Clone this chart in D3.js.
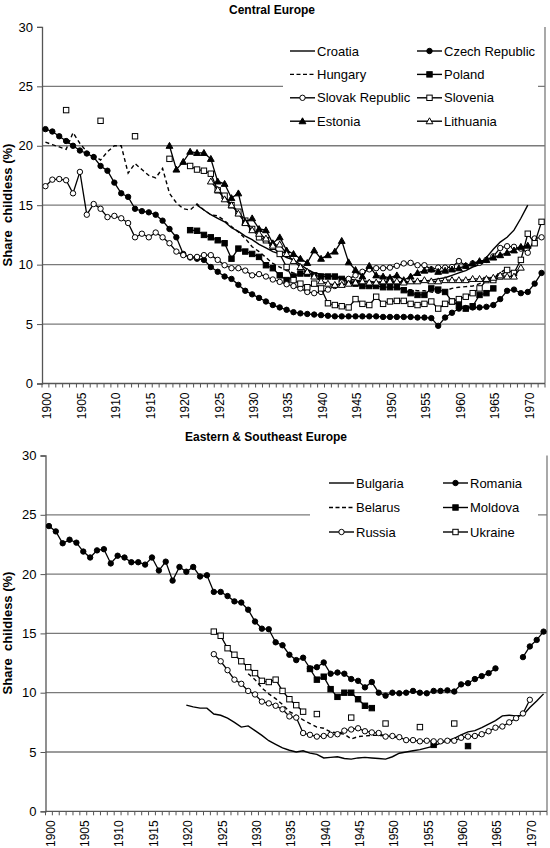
<!DOCTYPE html>
<html><head><meta charset="utf-8">
<script src="https://cdn.jsdelivr.net/npm/d3@7"></script>
<style>body{margin:0;background:#fff}svg{display:block}text{font-family:"Liberation Sans",Arial,sans-serif;fill:#000}</style>
</head><body><svg id="c" width="550" height="848"></svg>
<script>
// ---------- data ----------
const years = d3.range(1900, 1973);
const tickYears = [1900,1905,1910,1915,1920,1925,1930,1935,1940,1945,1950,1955,1960,1965,1970];
const yTicks = [0,5,10,15,20,25,30];
const gridValues = [5,10,15,20,25];

// Central Europe
const croatiaStart = 1922;
const croatia = [15.0,14.6,14.2,13.9,13.6,13.1,12.8,12.4,12.1,11.7,11.4,11.1,10.9,10.6,10.4,10.0,9.6,9.3,9.2,9.1,9.0,8.9,8.8,8.7,8.6,8.6,8.5,8.5,8.5,8.5,8.5,8.5,8.6,8.6,8.7,8.8,8.9,9.1,9.3,9.5,9.8,10.0,10.6,11.3,11.9,12.3,12.9,13.9,15.0];
const czechStart = 1900;
const czech = [21.4,21.2,20.8,20.4,20.0,19.6,19.35,19.05,18.3,17.9,16.9,16.0,15.7,14.7,14.5,14.4,14.2,13.7,13.0,12.3,10.9,10.6,10.5,10.4,9.8,9.4,9.0,8.8,8.3,7.8,7.5,7.2,6.9,6.6,6.4,6.2,6.0,5.9,5.85,5.8,5.75,5.7,5.65,5.65,5.65,5.65,5.65,5.65,5.65,5.6,5.6,5.6,5.6,5.6,5.55,5.55,5.5,4.85,5.55,5.95,6.3,6.35,6.4,6.4,6.45,6.6,7.1,7.8,7.9,7.6,7.7,8.4,9.3];
const hungaryStart = 1900;
const hungary = [20.3,20.1,19.9,19.7,21.1,20.2,19.5,19.2,18.8,19.5,20.0,20.0,17.7,18.5,18.0,17.5,17.3,18.1,16.0,15.2,14.7,14.6,15.1,14.6,14.2,14.1,13.7,13.2,12.75,12.2,11.5,11.1,10.6,10.1,9.8,9.5,9.3,9.2,9.1,9.0,9.0,8.9,8.8,8.7,8.6,8.5,8.4,8.3,8.2,8.1,8.0,8.0,7.9,7.9,7.8,7.8,7.7,7.6,7.8,8.0,8.1,8.15,8.2,8.4,8.6,8.9,9.3,9.7];
const polandStart = 1921;
const poland = [12.9,12.85,12.5,12.3,12.05,11.8,10.5,11.35,11.1,10.9,10.65,9.95,9.7,9.1,8.7,9.0,9.25,9.25,9.1,9.0,9.0,9.0,8.8,8.6,8.4,8.2,8.2,8.2,8.1,8.1,8.1,7.85,7.6,7.45,7.45,8.0,7.9,7.7,6.9,6.6,6.3,6.5,7.45,7.6,8.0];
const slovakStart = 1900;
const slovak = [16.6,17.15,17.2,17.1,16.0,17.8,14.2,15.1,14.7,14.0,14.1,13.9,13.5,12.3,12.6,12.3,12.7,12.3,11.8,11.1,10.8,10.65,10.65,10.8,10.8,10.4,9.95,9.7,9.7,9.5,9.1,9.2,9.0,8.75,8.55,8.35,8.2,8.0,7.7,7.6,7.7,7.9,8.2,8.5,8.8,9.1,9.4,9.6,9.7,9.7,9.75,9.9,10.1,10.15,9.95,9.95,9.6,9.75,9.75,9.8,10.3,9.9,10.1,10.15,10.4,10.7,11.4,11.55,11.5,11.35,11.0,12.2,12.3];
const sloveniaStart = 1903;
const slovenia = [23.0,null,null,null,null,22.1,null,null,null,null,20.8,null,null,null,null,18.9,null,null,18.3,18.0,17.9,17.65,16.25,15.8,15.0,14.45,13.7,13.0,12.3,12.05,11.5,10.9,9.8,8.7,8.4,8.1,8.4,8.0,6.75,6.6,6.5,6.4,7.1,6.7,6.6,7.3,6.7,6.9,6.95,6.95,6.7,6.6,6.7,6.9,6.3,6.7,6.9,7.1,7.3,7.6,8.0,8.7,8.7,9.0,9.55,9.3,10.4,12.6,11.8,13.6];
const estoniaStart = 1918;
const estonia = [20.0,18.0,18.65,19.5,19.4,19.4,18.9,17.0,16.8,15.6,16.0,13.6,13.9,13.0,12.9,11.8,12.3,11.2,10.9,10.5,10.15,11.2,10.5,10.8,11.1,12.0,10.2,9.55,9.0,9.9,9.1,9.0,8.9,9.1,8.7,9.0,9.3,9.5,9.6,9.4,9.5,9.6,9.7,9.9,10.1,10.3,10.4,10.6,10.8,11.0,11.2,11.5,11.6];
const lithuaniaStart = 1924;
const lithuania = [17.0,16.3,15.5,15.0,14.3,13.5,12.9,12.6,12.2,11.6,11.7,10.9,10.3,9.8,9.4,9.0,8.6,8.4,8.3,8.3,8.4,8.5,8.6,8.5,8.5,8.6,8.6,8.6,8.5,8.6,8.6,8.7,8.6,8.6,8.7,8.7,8.7,8.7,8.8,8.8,8.8,8.9,9.1,9.0,9.0,9.75];

// Eastern & Southeast Europe
const bulgariaStart = 1920;
const bulgaria = [8.95,8.8,8.7,8.7,8.2,8.1,7.85,7.5,7.1,7.2,6.8,6.4,5.95,5.65,5.35,5.15,5.0,5.1,4.9,4.8,4.5,4.55,4.6,4.45,4.4,4.5,4.55,4.5,4.45,4.4,4.6,4.9,5.0,5.1,5.2,5.35,5.5,5.75,5.95,6.15,6.45,6.7,6.8,7.05,7.35,7.65,8.05,8.1,8.05,8.1,8.75,9.3,9.9];
const romaniaStart = 1900;
const romania = [24.05,23.6,22.6,22.9,22.65,21.9,21.4,22.0,22.1,20.9,21.55,21.4,21.0,21.0,20.8,21.4,20.3,21.05,19.45,20.6,20.2,20.6,19.8,19.9,18.5,18.5,18.15,17.7,17.6,17.0,16.0,15.4,15.35,14.25,14.0,13.2,12.75,12.95,12.05,12.15,12.55,11.6,11.7,11.6,11.15,11.0,10.45,10.9,10.0,9.75,10.0,9.95,10.0,10.15,10.0,9.95,10.15,10.15,10.2,10.1,10.7,10.8,11.15,11.4,11.65,12.05,null,null,null,13.0,13.9,14.45,15.15];
const belarusStart = 1929;
const belarus = [11.6,11.1,10.4,9.9,9.5,9.0,8.4,8.1,7.7,7.4,7.1,7.0,6.7,6.6,6.5,6.1,6.3,6.35,6.4,6.4,6.35,6.3,6.2];
const moldovaStart = 1938;
const moldova = [12.0,11.1,11.35,10.3,9.65,10.0,10.0,9.45,8.9,8.7,null,null,null,null,null,null,null,null,5.6,null,null,null,null,5.5];
const russiaStart = 1924;
const russia = [13.25,12.65,11.9,11.1,10.75,10.15,9.85,9.25,9.1,8.9,8.6,8.0,7.9,6.6,6.45,6.3,6.35,6.45,6.5,6.8,6.9,7.0,6.75,6.65,6.6,6.3,6.35,6.25,6.0,6.0,5.9,5.95,5.9,5.9,5.95,5.95,6.2,6.3,6.35,6.5,6.75,7.05,7.15,7.5,7.85,8.25,9.4];
const ukraineStart = 1924;
const ukraine = [15.15,14.8,13.75,13.2,12.65,12.15,11.65,11.0,10.9,11.1,10.15,9.45,8.95,8.4,null,8.2,null,null,null,null,7.9,null,null,null,null,7.4,null,null,null,null,7.1,null,null,null,null,7.4];

// ---------- chart ----------
const svg = d3.select("#c");
const INK = "#000";

function toPoints(start, vals) {
  return vals.map((v, i) => ({ year: start + i, v: v }));
}

function drawMarker(g, type, x, y) {
  if (!type) return;
  const [shape, fill] = type.split("-");
  const f = fill === "filled" ? INK : "#fff";
  if (shape === "circle") {
    g.append("circle").attr("cx", x).attr("cy", y).attr("r", 2.7)
      .attr("fill", f).attr("stroke", INK).attr("stroke-width", 1);
  } else if (shape === "square") {
    g.append("rect").attr("x", x - 2.7).attr("y", y - 2.7).attr("width", 5.4).attr("height", 5.4)
      .attr("fill", f).attr("stroke", INK).attr("stroke-width", 1);
  } else if (shape === "triangle") {
    const s = 3.4;
    g.append("path").attr("d", `M${x},${y - s}L${x + s},${y + s * 0.75}L${x - s},${y + s * 0.75}Z`)
      .attr("fill", f).attr("stroke", INK).attr("stroke-width", 1);
  }
}

function drawPanel(cfg) {
  const x = d3.scaleBand().domain(years).range([cfg.x0, cfg.x1]).paddingInner(0).paddingOuter(0);
  const bw = x.bandwidth();
  const cx = yr => x(yr) + bw / 2;
  const y = d3.scaleLinear().domain([0, 30]).range([cfg.yBot, cfg.yTop]);
  const g = svg.append("g");

  g.selectAll(".grid").data(gridValues).enter().append("line")
    .attr("x1", cfg.x0).attr("x2", cfg.x1)
    .attr("y1", d => y(d)).attr("y2", d => y(d))
    .attr("stroke", "#7a7a7a").attr("stroke-width", 1.3);

  g.append("line").attr("x1", cfg.x1).attr("x2", cfg.x1).attr("y1", y(30)).attr("y2", y(0))
    .attr("stroke", "#7a7a7a").attr("stroke-width", 1.3);

  const yAxis = d3.axisLeft(y).tickValues(yTicks).tickSize(5).tickPadding(4);
  const ya = g.append("g").attr("transform", `translate(${cfg.x0},0)`).call(yAxis);
  ya.select(".domain").attr("stroke", "#555").attr("stroke-width", 1.3);
  ya.selectAll(".tick line").attr("stroke", "#555");
  ya.selectAll("text").attr("font-size", 13).attr("font-family", "Liberation Sans, Arial, sans-serif").attr("fill", "#000");

  const bounds = d3.range(years.length + 1).map(i => cfg.x0 + i * bw);
  g.selectAll(".xt").data(bounds).enter().append("line")
    .attr("x1", d => d).attr("x2", d => d).attr("y1", cfg.yBot).attr("y2", cfg.yBot + 4)
    .attr("stroke", "#555").attr("stroke-width", 1);
  g.append("line").attr("x1", cfg.x0).attr("x2", cfg.x1).attr("y1", cfg.yBot).attr("y2", cfg.yBot)
    .attr("stroke", "#555").attr("stroke-width", 1.3);
  g.selectAll(".xl").data(tickYears).enter().append("text")
    .attr("transform", d => `translate(${cx(d) + 1.5},${cfg.yBot + 9}) rotate(-90)`)
    .attr("text-anchor", "end").attr("dy", "0.36em")
    .attr("font-size", 12).text(d => d);

  g.append("text").attr("transform", `translate(12,${cfg.titleYc}) rotate(-90)`)
    .attr("text-anchor", "middle").attr("font-size", 13).attr("font-weight", "bold")
    .style("white-space", "pre").text("Share  childless (%)");

  g.append("text").attr("x", cfg.tx).attr("y", cfg.ty).attr("text-anchor", "middle")
    .attr("font-size", 12).attr("font-weight", "bold").text(cfg.title);

  g.append("rect").attr("x", cfg.legBox[0]).attr("y", cfg.legBox[1])
    .attr("width", cfg.legBox[2]).attr("height", cfg.legBox[3]).attr("fill", "#fff");

  const line = d3.line().defined(d => d.v !== null).x(d => cx(d.year)).y(d => y(d.v));
  cfg.series.forEach(s => {
    const pts = toPoints(s.start, s.values);
    g.append("path").attr("d", line(pts)).attr("fill", "none").attr("stroke", INK)
      .attr("stroke-width", s.marker ? 1.3 : 1.4).attr("stroke-dasharray", s.dash || null);
    const mg = g.append("g");
    pts.filter(p => p.v !== null).forEach(p => drawMarker(mg, s.marker, cx(p.year), y(p.v)));
  });

  cfg.series.forEach((s, i) => {
    const col = i % 2, row = Math.floor(i / 2);
    const lx = cfg.legCols[col], ly = cfg.legRow0 + row * cfg.legStep;
    const lg = g.append("g");
    lg.append("line").attr("x1", lx).attr("x2", lx + 25).attr("y1", ly).attr("y2", ly)
      .attr("stroke", INK).attr("stroke-width", 1.4).attr("stroke-dasharray", s.dash ? "4,2.5" : null);
    drawMarker(lg, s.marker, lx + 12.5, ly);
    lg.append("text").attr("x", lx + 27).attr("y", ly).attr("dy", "0.36em")
      .attr("font-size", 13).text(s.name);
  });
}

drawPanel({
  x0: 42, x1: 545, yTop: 26.9, yBot: 383.5, titleYc: 205,
  title: "Central Europe", tx: 272, ty: 14,
  legBox: [283, 38, 255, 96], legCols: [290, 417], legRow0: 51, legStep: 23.4,
  series: [
    { name: "Croatia", start: croatiaStart, values: croatia },
    { name: "Czech Republic", start: czechStart, values: czech, marker: "circle-filled" },
    { name: "Hungary", start: hungaryStart, values: hungary, dash: "4,3" },
    { name: "Poland", start: polandStart, values: poland, marker: "square-filled" },
    { name: "Slovak Republic", start: slovakStart, values: slovak, marker: "circle-open" },
    { name: "Slovenia", start: sloveniaStart, values: slovenia, marker: "square-open" },
    { name: "Estonia", start: estoniaStart, values: estonia, marker: "triangle-filled" },
    { name: "Lithuania", start: lithuaniaStart, values: lithuania, marker: "triangle-open" }
  ]
});

drawPanel({
  x0: 45.5, x1: 547, yTop: 455.5, yBot: 811.3, titleYc: 633,
  title: "Eastern & Southeast Europe", tx: 266, ty: 441,
  legBox: [310, 470, 228, 76], legCols: [329, 443], legRow0: 483, legStep: 24.5,
  series: [
    { name: "Bulgaria", start: bulgariaStart, values: bulgaria },
    { name: "Romania", start: romaniaStart, values: romania, marker: "circle-filled" },
    { name: "Belarus", start: belarusStart, values: belarus, dash: "4,3" },
    { name: "Moldova", start: moldovaStart, values: moldova, marker: "square-filled" },
    { name: "Russia", start: russiaStart, values: russia, marker: "circle-open" },
    { name: "Ukraine", start: ukraineStart, values: ukraine, marker: "square-open" }
  ]
});
</script></body></html>
